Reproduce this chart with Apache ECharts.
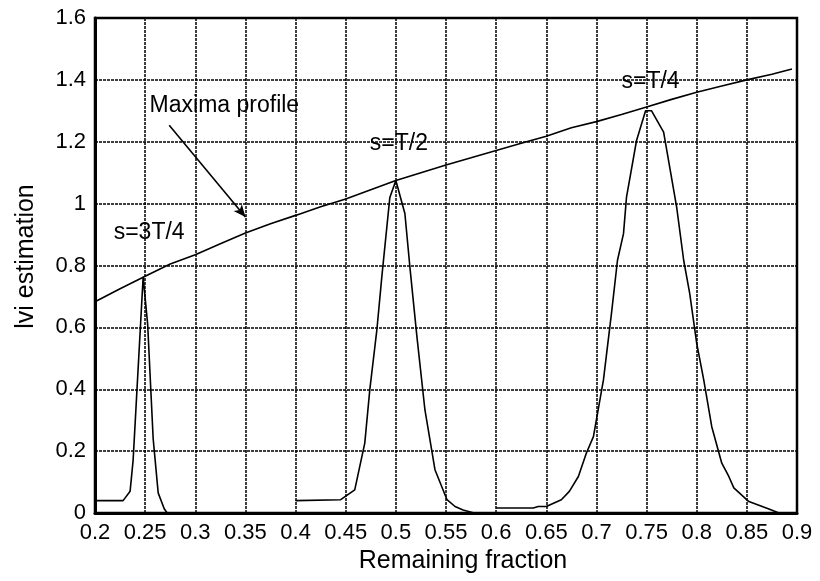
<!DOCTYPE html>
<html>
<head>
<meta charset="utf-8">
<script src="https://cdn.jsdelivr.net/npm/echarts@6/dist/echarts.min.js"></script>
<style>
  html, body { margin: 0; padding: 0; background: #fff; }
  #chart { width: 820px; height: 581px; }
</style>
</head>
<body>
<div id="chart"></div>
<script>
// maxima profile [remaining fraction, lvi]
const maximaProfile = [
  [0.2, 0.683], [0.225, 0.725], [0.25, 0.765], [0.275, 0.805], [0.3, 0.835],
  [0.325, 0.87], [0.35, 0.905], [0.375, 0.935], [0.4, 0.962], [0.425, 0.99],
  [0.45, 1.015], [0.475, 1.045], [0.5, 1.075], [0.525, 1.1], [0.55, 1.125],
  [0.575, 1.148], [0.6, 1.172], [0.625, 1.195], [0.65, 1.218], [0.675, 1.245],
  [0.7, 1.265], [0.725, 1.288], [0.75, 1.312], [0.775, 1.337], [0.8, 1.36],
  [0.825, 1.38], [0.85, 1.4], [0.875, 1.418], [0.895, 1.435]
];

// s = 3T/4
const peak3T4 = [
  [0.2, 0.04], [0.228, 0.04], [0.235, 0.07], [0.238, 0.17], [0.248, 0.763],
  [0.2525, 0.61], [0.258, 0.24], [0.263, 0.065], [0.269, 0.014], [0.272, 0.0],
  [0.4, 0.0]
];

// s = T/2
const peakT2 = [
  [0.4, 0.04], [0.445, 0.043], [0.459, 0.075], [0.469, 0.226], [0.474, 0.398],
  [0.481, 0.59], [0.486, 0.763], [0.494, 1.02], [0.5, 1.075], [0.509, 0.968],
  [0.514, 0.795], [0.521, 0.57], [0.529, 0.333], [0.539, 0.14], [0.551, 0.043],
  [0.559, 0.021], [0.567, 0.01], [0.578, 0.0], [0.6, 0.0]
];

// s = T/4
const peakT4 = [
  [0.6, 0.016], [0.637, 0.016], [0.642, 0.021], [0.65, 0.021], [0.665, 0.043],
  [0.673, 0.07], [0.682, 0.118], [0.69, 0.194], [0.697, 0.247], [0.707, 0.43],
  [0.715, 0.645], [0.721, 0.817], [0.727, 0.903], [0.73, 1.021], [0.74, 1.204],
  [0.749, 1.3], [0.755, 1.3], [0.767, 1.231], [0.78, 0.989], [0.787, 0.817],
  [0.793, 0.71], [0.8, 0.548], [0.807, 0.43], [0.815, 0.279], [0.825, 0.161],
  [0.832, 0.118], [0.837, 0.081], [0.852, 0.037], [0.872, 0.013], [0.882, 0.0]
];

// text annotations placed in data coordinates
const annotations = [
  { text: "s=3T/4", coord: [0.254, 0.907] },
  { text: "Maxima profile", coord: [0.329, 1.317] },
  { text: "s=T/2", coord: [0.503, 1.195] },
  { text: "s=T/4", coord: [0.754, 1.395] }
];
const arrowFrom = [0.274, 1.253];
const arrowTo = [0.35, 0.957];

const FONT = "Liberation Sans, Arial, sans-serif";

const chart = echarts.init(document.getElementById("chart"), null, { renderer: "canvas" });

const gridLine = {
  show: true,
  lineStyle: { color: "#000", width: 1.5, type: [3, 1] }
};

function curve(name, data) {
  return {
    name: name,
    type: "line",
    data: data,
    showSymbol: false,
    symbol: "none",
    lineStyle: { color: "#000", width: 1.6 },
    z: 5,
    animation: false
  };
}

const series = [
  curve("peak 3T/4", peak3T4),
  curve("peak T/2", peakT2),
  curve("peak T/4", peakT4),
  curve("Maxima profile", maximaProfile)
];

// annotations + arrow on the profile series
series[3].markPoint = {
  symbol: "circle",
  symbolSize: 1,
  silent: true,
  animation: false,
  itemStyle: { color: "rgba(0,0,0,0)" },
  label: {
    show: true,
    position: "inside",
    color: "#000",
    fontFamily: FONT,
    fontSize: 23,
    formatter: (p) => p.name
  },
  data: annotations.map((a) => ({ name: a.text, coord: a.coord, value: 0 }))
};
series[3].markLine = {
  silent: true,
  animation: false,
  symbol: ["none", "arrow"],
  symbolSize: [8, 12],
  label: { show: false },
  lineStyle: { color: "#000", width: 1.6, type: "solid" },
  data: [[{ coord: arrowFrom }, { coord: arrowTo }]]
};

const option = {
  backgroundColor: "#fff",
  animation: false,
  grid: {
    left: 95,
    right: 23,
    top: 18,
    bottom: 68,
    show: true,
    borderColor: "#000",
    borderWidth: 2.5,
    containLabel: false
  },
  xAxis: {
    type: "value",
    min: 0.2,
    max: 0.9,
    interval: 0.05,
    name: "Remaining fraction",
    nameLocation: "middle",
    nameGap: 31,
    nameTextStyle: {
      color: "#000",
      fontFamily: FONT,
      fontSize: 25,
      padding: [0, 0, 0, 34]
    },
    axisLine: { show: true, onZero: false, lineStyle: { color: "#000", width: 3 } },
    axisTick: { show: false },
    axisLabel: {
      color: "#000",
      fontFamily: FONT,
      fontSize: 22,
      margin: 9,
      formatter: (v) => String(+v.toFixed(2))
    },
    splitLine: gridLine
  },
  yAxis: {
    type: "value",
    min: 0,
    max: 1.6,
    interval: 0.2,
    name: "lvi estimation",
    nameLocation: "middle",
    nameGap: 56,
    nameTextStyle: {
      color: "#000",
      fontFamily: FONT,
      fontSize: 25,
      padding: [0, 0, 0, 18]
    },
    axisLine: { show: true, lineStyle: { color: "#000", width: 3 } },
    axisTick: { show: false },
    axisLabel: {
      color: "#000",
      fontFamily: FONT,
      fontSize: 22,
      margin: 9,
      formatter: (v) => String(+v.toFixed(1))
    },
    splitLine: gridLine
  },
  series: series
};

chart.setOption(option);
</script>
</body>
</html>
